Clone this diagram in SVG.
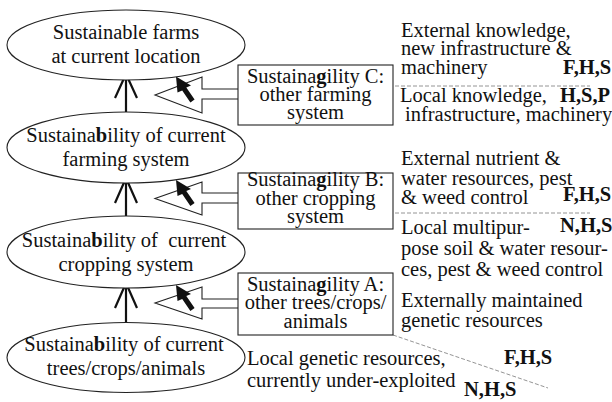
<svg xmlns="http://www.w3.org/2000/svg" width="612" height="402" viewBox="0 0 612 402">
<style>
text{font-family:"Liberation Serif","Times New Roman",serif;font-size:20.5px;fill:#111}
.c{text-anchor:middle}
.b{font-weight:bold}
.ell{fill:#fff;stroke:#222;stroke-width:1.1}
.box{fill:#fff;stroke:#222;stroke-width:1.1}
.up{fill:none;stroke:#111;stroke-width:2.2}
.blk{fill:#fff;stroke:#222;stroke-width:1.1;stroke-linejoin:miter}
.cur{fill:#111}
.dash{fill:none;stroke:#888;stroke-width:0.9;stroke-dasharray:4 2}
</style>
<defs>
<path id="cursor" d="M0,0 L1.5,16 L6.2,13.9 L14.4,25.9 L18.6,23.1 L10.3,11.1 L15,9 Z"/>
</defs>
<rect width="612" height="402" fill="#fff"/>

<g id="connectors">
<path class="up" d="M126,74 V112 M115,98 L126,74 L137,98"/>
<path class="up" d="M126,178 V216 M115,203 L126,178 L137,203"/>
<path class="up" d="M126,283 V323 M115,308 L126,283 L137,308"/>
<path class="blk" d="M238,89 H202 V77 L155,95 L202,113 V99 H238"/>
<path class="blk" d="M238,193 H202 V182 L155,198.5 L202,215 V203 H238"/>
<path class="blk" d="M238,299 H202 V287 L155,303 L202,319 V308 H238"/>
<use href="#cursor" class="cur" transform="translate(176,76.5)"/>
<use href="#cursor" class="cur" transform="translate(176,180)"/>
<use href="#cursor" class="cur" transform="translate(176,285)"/>
</g>

<g id="separators">
<line class="dash" x1="395" y1="86" x2="590" y2="86"/>
<line class="dash" x1="395" y1="213" x2="590" y2="213"/>
<line class="dash" x1="393" y1="335" x2="548" y2="388"/>
</g>

<g id="node-farms">
<ellipse class="ell" cx="126" cy="45" rx="119" ry="35"/>
<text class="c" x="126" y="39">Sustainable farms</text>
<text class="c" x="126" y="63">at current location</text>
</g>

<g id="node-farming-system">
<ellipse class="ell" cx="126" cy="147.5" rx="119" ry="35.5"/>
<text class="c" x="126" y="142">Sustaina<tspan class="b">b</tspan>ility of current</text>
<text class="c" x="126" y="166">farming system</text>
</g>

<g id="node-cropping-system">
<ellipse class="ell" cx="126" cy="252" rx="119" ry="36"/>
<text class="c" x="124" y="247" xml:space="preserve" style="white-space:pre">Sustaina<tspan class="b">b</tspan>ility of  current</text>
<text class="c" x="126" y="271">cropping system</text>
</g>

<g id="node-trees">
<ellipse class="ell" cx="126" cy="357.5" rx="119" ry="35"/>
<text class="c" x="124" y="351">Sustaina<tspan class="b">b</tspan>ility of current</text>
<text class="c" x="126" y="375">trees/crops/animals</text>
</g>

<g id="node-C">
<rect class="box" x="238" y="65" width="155" height="60"/>
<text class="c" x="315.5" y="83">Sustaina<tspan class="b">g</tspan>ility C:</text>
<text class="c" x="315.5" y="101">other farming</text>
<text class="c" x="315.5" y="119">system</text>
</g>

<g id="node-B">
<rect class="box" x="238" y="173" width="155" height="56"/>
<text class="c" x="315.5" y="186">Sustaina<tspan class="b">g</tspan>ility B:</text>
<text class="c" x="315.5" y="205">other cropping</text>
<text class="c" x="315.5" y="223">system</text>
</g>

<g id="node-A">
<rect class="box" x="238" y="273" width="155" height="62"/>
<text class="c" x="315.5" y="291">Sustaina<tspan class="b">g</tspan>ility A:</text>
<text class="c" x="315.5" y="309">other trees/crops/</text>
<text class="c" x="315.5" y="328">animals</text>
</g>

<g id="resources-C">
<text x="401" y="37">External knowledge,</text>
<text x="401" y="55">new infrastructure &amp;</text>
<text x="401" y="74">machinery</text>
<text class="b" x="563" y="74">F,H,S</text>
<text x="400" y="102">Local knowledge,</text>
<text class="b" x="560" y="102">H,S,P</text>
<text x="405" y="121">infrastructure, machinery</text>
</g>

<g id="resources-B">
<text x="401" y="165">External nutrient &amp;</text>
<text x="401" y="185">water resources, pest</text>
<text x="401" y="204">&amp; weed control</text>
<text class="b" x="563" y="201">F,H,S</text>
<text x="401" y="234">Local multipur-</text>
<text class="b" x="560" y="232">N,H,S</text>
<text x="401" y="255">pose soil &amp; water resour-</text>
<text x="401" y="276">ces, pest &amp; weed control</text>
</g>

<g id="resources-A">
<text x="401" y="307">Externally maintained</text>
<text x="401" y="327">genetic resources</text>
<text class="b" x="504" y="364">F,H,S</text>
<text x="247" y="365">Local genetic resources,</text>
<text x="247" y="387">currently under-exploited</text>
<text class="b" x="464" y="396">N,H,S</text>
</g>
</svg>
